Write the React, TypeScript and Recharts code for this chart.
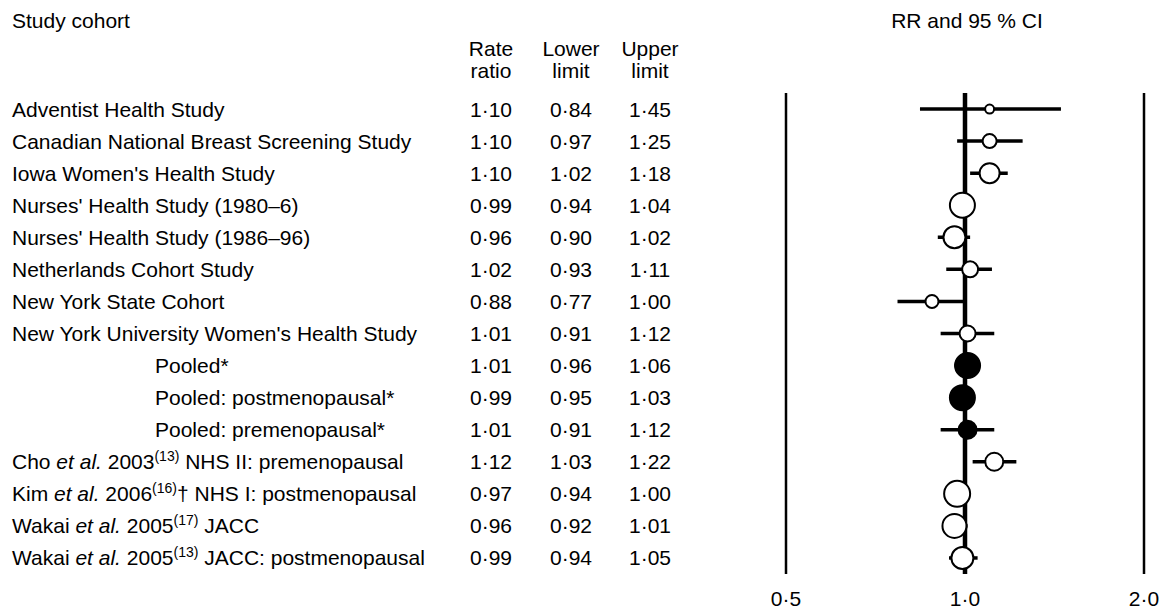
import React from 'react';
import {
  ScatterChart,
  Scatter,
  XAxis,
  YAxis,
  ErrorBar,
  ReferenceLine,
  Customized,
} from 'recharts';

// _text_ = italic, ^text^ = superscript
const studies = [
  'Adventist Health Study',
  'Canadian National Breast Screening Study',
  "Iowa Women's Health Study",
  "Nurses' Health Study (1980–6)",
  "Nurses' Health Study (1986–96)",
  'Netherlands Cohort Study',
  'New York State Cohort',
  "New York University Women's Health Study",
  'Pooled*',
  'Pooled: postmenopausal*',
  'Pooled: premenopausal*',
  'Cho _et al._ 2003^(13)^ NHS II: premenopausal',
  'Kim _et al._ 2006^(16)^† NHS I: postmenopausal',
  'Wakai _et al._ 2005^(17)^ JACC',
  'Wakai _et al._ 2005^(13)^ JACC: postmenopausal',
];
const rateRatio = [1.1, 1.1, 1.1, 0.99, 0.96, 1.02, 0.88, 1.01, 1.01, 0.99, 1.01, 1.12, 0.97, 0.96, 0.99];
const lowerLimit = [0.84, 0.97, 1.02, 0.94, 0.9, 0.93, 0.77, 0.91, 0.96, 0.95, 0.91, 1.03, 0.94, 0.92, 0.94];
const upperLimit = [1.45, 1.25, 1.18, 1.04, 1.02, 1.11, 1.0, 1.12, 1.06, 1.03, 1.12, 1.22, 1.0, 1.01, 1.05];
const isPooled = [false, false, false, false, false, false, false, false, true, true, true, false, false, false, false];
// study weight, drawn as marker radius
const weights = [4.5, 7, 10, 12.5, 11, 8, 6.5, 8, 12.5, 12.5, 9, 9, 13, 12, 11];
const xTicks = [0.5, 1, 2];

const FONT = '"Liberation Sans", Arial, Helvetica, sans-serif';
const FS = 21;

const data = rateRatio.map((rr, i) => ({
  x: rr,
  y: i + 1,
  err: [rr - lowerLimit[i], upperLimit[i] - rr],
  r: weights[i],
  filled: isPooled[i],
}));

const fmt = (v: number, d: number) => v.toFixed(d).replace('.', '·');

const renderLabel = (label: string) => {
  const parts = label.split(/(_[^_]+_|\^[^^]+\^)/).filter((p) => p !== '');
  let raised = false;
  return parts.map((p, k) => {
    if (p.startsWith('^')) {
      raised = true;
      return (
        <tspan key={k} fontSize={14} dy={-8}>
          {p.slice(1, -1)}
        </tspan>
      );
    }
    const dy = raised ? 8 : undefined;
    raised = false;
    if (p.startsWith('_')) {
      return (
        <tspan key={k} fontStyle="italic" dy={dy}>
          {p.slice(1, -1)}
        </tspan>
      );
    }
    return (
      <tspan key={k} dy={dy}>
        {p}
      </tspan>
    );
  });
};

const RowTick = ({ y, payload }: any) => {
  const i = payload.value - 1;
  if (i < 0 || i >= studies.length) return null;
  const common = { fontFamily: FONT, fontSize: FS, fill: '#000', y: y + 7.5 };
  return (
    <g>
      <text {...common} x={isPooled[i] ? 155 : 12} textAnchor="start">
        {renderLabel(studies[i])}
      </text>
      <text {...common} x={491} textAnchor="middle">{fmt(rateRatio[i], 2)}</text>
      <text {...common} x={571} textAnchor="middle">{fmt(lowerLimit[i], 2)}</text>
      <text {...common} x={650} textAnchor="middle">{fmt(upperLimit[i], 2)}</text>
    </g>
  );
};

const Headers = () => {
  const t = { fontFamily: FONT, fontSize: FS, fill: '#000' };
  return (
    <g>
      <text {...t} x={12} y={28}>Study cohort</text>
      <text {...t} x={967} y={28} textAnchor="middle">RR and 95 % CI</text>
      <text {...t} x={491} y={56} textAnchor="middle">Rate</text>
      <text {...t} x={491} y={78} textAnchor="middle">ratio</text>
      <text {...t} x={571} y={56} textAnchor="middle">Lower</text>
      <text {...t} x={571} y={78} textAnchor="middle">limit</text>
      <text {...t} x={650} y={56} textAnchor="middle">Upper</text>
      <text {...t} x={650} y={78} textAnchor="middle">limit</text>
    </g>
  );
};

const Marker = (props: any) => {
  const { cx, cy, payload } = props;
  return (
    <circle
      cx={cx}
      cy={cy}
      r={payload.r}
      fill={payload.filled ? '#000' : '#fff'}
      stroke="#000"
      strokeWidth={2}
    />
  );
};

const App = () => {
  return (
    <div style={{ position: 'absolute', left: 0, top: 0, background: '#fff' }}>
      <ScatterChart
        width={1160}
        height={609}
        margin={{ top: 93, right: 16, bottom: 0, left: 0 }}
      >
        <XAxis
          type="number"
          dataKey="x"
          scale="log"
          domain={[0.5, 2]}
          allowDataOverflow
          ticks={xTicks}
          tickFormatter={(v: number) => fmt(v, 1)}
          axisLine={false}
          tickLine={false}
          tickMargin={11}
          height={35}
          tick={{ fontFamily: FONT, fontSize: FS, fill: '#000' }}
        />
        <YAxis
          type="number"
          dataKey="y"
          domain={[0.5, 15.5]}
          reversed
          ticks={studies.map((_, i) => i + 1)}
          interval={0}
          width={786}
          axisLine={false}
          tickLine={false}
          tick={<RowTick />}
        />
        <ReferenceLine x={0.5} stroke="#000" strokeWidth={2.5} />
        <ReferenceLine x={2} stroke="#000" strokeWidth={2.5} />
        <ReferenceLine x={1} stroke="#000" strokeWidth={4.5} />
        <Scatter data={data} shape={<Marker />} isAnimationActive={false}>
          <ErrorBar
            dataKey="err"
            direction="x"
            width={0}
            stroke="#000"
            strokeWidth={3.5}
            isAnimationActive={false}
          />
        </Scatter>
        <Customized component={Headers} />
      </ScatterChart>
    </div>
  );
};

export default App;
